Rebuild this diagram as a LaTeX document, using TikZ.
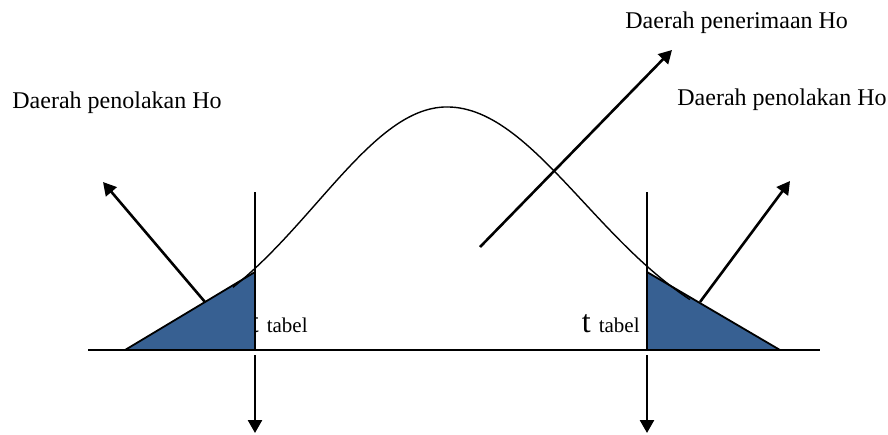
\documentclass[tikz,border=0pt]{standalone}
\usepackage{fontspec}
\setmainfont{Liberation Serif}
\usetikzlibrary{arrows.meta}
\definecolor{TailBlue}{HTML}{376092}

\begin{document}
\begin{tikzpicture}[x=0.5pt,y=-0.5pt,
  curve/.style={line width=0.7pt},
  axis/.style={line width=0.9pt},
  tail/.style={fill=TailBlue,draw=black,line width=0.9pt},
  limit/.style={line width=0.7pt},
  pointer/.style={-{Triangle[length=6.5pt,width=7pt]},line width=1.3pt},
  label/.style={font=\fontsize{12}{14}\selectfont,inner sep=0pt},
  crit/.style={inner sep=0pt,font=\fontsize{16}{18}\selectfont}
]
  \useasboundingbox (0,0) rectangle (888,434);

  % critical values (t under the left tail)
  \node[crit,anchor=base east] (tleft) at (308,332)
    {t \fontsize{10.5}{12}\selectfont tabel};
  \node[crit,anchor=base east] (tright) at (640,332)
    {t \fontsize{10.5}{12}\selectfont tabel};

  % rejection tails
  \coordinate (lowL) at (125,350);
  \coordinate (critL) at (255,350);
  \coordinate (topL) at (255,272);
  \coordinate (critR) at (647,350);
  \coordinate (topR) at (647,272);
  \coordinate (lowR) at (780,350);
  \draw[tail] (lowL) -- (critL) -- (topL) -- cycle;
  \draw[tail] (critR) -- (topR) -- (lowR) -- cycle;

  % density curve
  \draw[curve] plot[domain=233:447,samples=60]
    (\x,{350-243*exp(-0.5*((\x-447)/130)^2)});
  \draw[curve] plot[domain=447:690,samples=60]
    (\x,{350-243*exp(-0.5*((\x-447)/137)^2)});

  % axis
  \coordinate (axisL) at (88,350);
  \coordinate (axisR) at (820,350);
  \draw[axis] (axisL) -- (axisR);

  % limits and arrows down
  \coordinate (limL) at (255,192);
  \coordinate (limR) at (647,192);
  \draw[limit] (limL) -- (critL);
  \draw[limit] (limR) -- (critR);
  \coordinate (footL) at (255,355);
  \coordinate (footR) at (647,355);
  \coordinate (endL) at (255,433);
  \coordinate (endR) at (647,433);
  \draw[pointer] (footL) -- (endL);
  \draw[pointer] (footR) -- (endR);

  % labels
  \node[label,anchor=base west] (rejL) at (12,108) {Daerah penolakan Ho};
  \node[label,anchor=base west] (rejR) at (677,105) {Daerah penolakan Ho};
  \node[label,anchor=base west] (acc) at (625,28) {Daerah penerimaan Ho};

  \coordinate (fromL) at (205,302);
  \coordinate (toL) at (103,182);
  \coordinate (fromR) at (700,302);
  \coordinate (toR) at (790,181);
  \coordinate (fromC) at (480,247);
  \coordinate (toC) at (672,50);
  \draw[pointer] (fromL) -- (toL);
  \draw[pointer] (fromR) -- (toR);
  \draw[pointer] (fromC) -- (toC);
\end{tikzpicture}
\end{document}
